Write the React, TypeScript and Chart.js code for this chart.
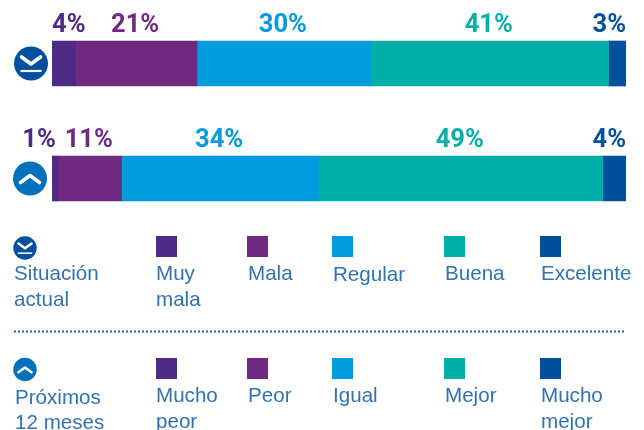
import React, { useEffect, useRef } from "react";
import { Chart, registerables } from "chart.js";

Chart.register(...registerables);

const rows = ["Situación actual", "Próximos 12 meses"];
const muyMala = [4, 1];
const mala = [21, 11];
const regular = [30, 34];
const buena = [41, 49];
const excelente = [3, 4];
const seriesNames = ["Muy mala / Mucho peor", "Mala / Peor", "Regular / Igual", "Buena / Mejor", "Excelente / Mucho mejor"];
const colors = ["#4c2a85", "#6f2a80", "#009bdf", "#00b0a8", "#00509b"];
const legendTop = [["Muy", "mala"], ["Mala"], ["Regular"], ["Buena"], ["Excelente"]];
const legendBottom = [["Mucho", "peor"], ["Peor"], ["Igual"], ["Mejor"], ["Mucho", "mejor"]];
const rowTitleTop = ["Situación", "actual"];
const rowTitleBottom = ["Próximos", "12 meses"];

const TEXT = "#3272b0";
const SWATCH_X = [156, 247, 332, 444, 540];
const TEXT_X = [156, 248, 333, 445, 541];

function icon(ctx: CanvasRenderingContext2D, cx: number, cy: number, r: number, fill: string, down: boolean) {
  const s = r / 17;
  ctx.save();
  ctx.beginPath();
  ctx.arc(cx, cy, r, 0, Math.PI * 2);
  ctx.fillStyle = fill;
  ctx.fill();
  ctx.strokeStyle = "#fff";
  ctx.lineCap = "round";
  ctx.lineJoin = "round";
  ctx.lineWidth = 3.6 * s;
  ctx.beginPath();
  if (down) {
    ctx.moveTo(cx - 9.5 * s, cy - 6.5 * s);
    ctx.lineTo(cx, cy + 0.5 * s);
    ctx.lineTo(cx + 9.5 * s, cy - 6.5 * s);
    ctx.stroke();
    ctx.lineCap = "butt";
    ctx.lineWidth = 2.2 * s;
    ctx.beginPath();
    ctx.moveTo(cx - 10.5 * s, cy + 7.5 * s);
    ctx.lineTo(cx + 10.5 * s, cy + 7.5 * s);
    ctx.stroke();
  } else {
    ctx.moveTo(cx - 9.5 * s, cy + 4 * s);
    ctx.lineTo(cx, cy - 3 * s);
    ctx.lineTo(cx + 9.5 * s, cy + 4 * s);
    ctx.stroke();
  }
  ctx.restore();
}

const decorations = {
  id: "decorations",
  afterDatasetsDraw(chart: any) {
    const ctx: CanvasRenderingContext2D = chart.ctx;
    ctx.save();
    // value labels
    ctx.font = "700 25.5px Roboto";
    ctx.textBaseline = "alphabetic";
    chart.data.datasets.forEach((ds: any, di: number) => {
      const meta = chart.getDatasetMeta(di);
      meta.data.forEach((bar: any, ri: number) => {
        const top = bar.y - bar.height / 2;
        const y = top - 9.5;
        const left = bar.base;
        const right = bar.x;
        const w = right - left;
        ctx.fillStyle = ds.backgroundColor;
        const label = ds.data[ri] + "%";
        if (di === 0 && w < 10) {
          ctx.textAlign = "right";
          ctx.fillText(label, right - 2, y);
        } else if (di === 0) {
          ctx.textAlign = "left";
          ctx.fillText(label, left, y);
        } else if (di === chart.data.datasets.length - 1) {
          ctx.textAlign = "right";
          ctx.fillText(label, right, y);
        } else {
          ctx.textAlign = "center";
          ctx.fillText(label, (left + right) / 2 - 1, y);
        }
      });
    });

    // row icons
    icon(ctx, 31, 63.5, 17, "#00509b", true);
    icon(ctx, 30, 178.5, 17, "#0070ba", false);
    icon(ctx, 25, 248, 11.7, "#00509b", true);
    icon(ctx, 25, 369.5, 11.7, "#0070ba", false);

    // legend
    ctx.textAlign = "left";
    ctx.font = "20.6px 'Liberation Sans'";
    const drawLines = (lines: string[], x: number, y: number, lh: number) => {
      lines.forEach((t, i) => ctx.fillText(t, x, y + i * lh));
    };
    ctx.fillStyle = TEXT;
    drawLines(rowTitleTop, 14, 280, 26);
    drawLines(rowTitleBottom, 15, 404, 25);
    colors.forEach((c, i) => {
      ctx.fillStyle = c;
      ctx.fillRect(SWATCH_X[i], 236, 21, 21);
      ctx.fillRect(SWATCH_X[i], 358, 21, 21);
      ctx.fillStyle = TEXT;
      drawLines(legendTop[i], TEXT_X[i], i === 2 ? 281 : 280, 26);
      drawLines(legendBottom[i], TEXT_X[i], 402, 26);
    });

    // dotted separator
    ctx.strokeStyle = "#0070ba";
    ctx.lineWidth = 2;
    ctx.setLineDash([2, 2]);
    ctx.beginPath();
    ctx.moveTo(14, 331.5);
    ctx.lineTo(626, 331.5);
    ctx.stroke();
    ctx.restore();
  },
};

export default function App() {
  const ref = useRef<HTMLCanvasElement>(null);
  useEffect(() => {
    const values = [muyMala, mala, regular, buena, excelente];
    const chart = new Chart(ref.current!, {
      type: "bar",
      data: {
        labels: rows,
        datasets: values.map((data, i) => ({
          label: seriesNames[i],
          data,
          backgroundColor: colors[i],
          borderWidth: 0,
          barThickness: 45,
        })),
      },
      options: {
        indexAxis: "y",
        responsive: false,
        animation: false,
        layout: { padding: { left: 52, right: 18, top: 6, bottom: 194 } },
        plugins: { legend: { display: false }, tooltip: { enabled: false } },
        scales: {
          x: { stacked: true, min: 0, max: 99, display: false },
          y: { stacked: true, display: false },
        },
      },
      plugins: [decorations],
    } as any);
    return () => chart.destroy();
  }, []);
  return (
    <canvas
      ref={ref}
      width={644}
      height={430}
      style={{ position: "absolute", left: 0, top: 0, width: 644, height: 430, background: "#fff" }}
    />
  );
}
